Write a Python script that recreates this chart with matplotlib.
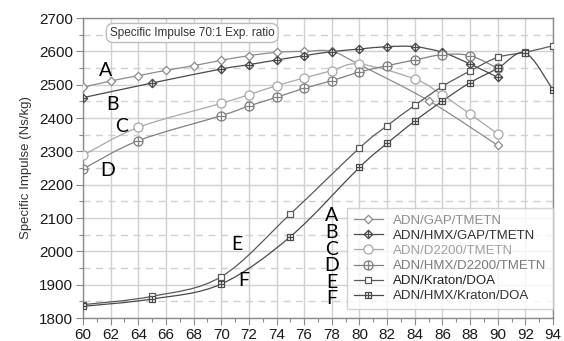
import numpy as np
import matplotlib
matplotlib.use("Agg")
import matplotlib.pyplot as plt
from matplotlib.path import Path
from matplotlib.patches import PathPatch
from matplotlib.lines import Line2D

# ---------------- data ----------------
a_x = [60, 62, 64, 66, 68, 70, 72, 74, 76, 78, 80, 85, 90]
a_y = [2492, 2511, 2527, 2543, 2557, 2573, 2587, 2597, 2600, 2600, 2560, 2452, 2318]

b_x = [60, 65, 70, 72, 74, 76, 78, 80, 82, 84, 86, 88, 90]
b_y = [2461, 2505, 2547, 2560, 2574, 2587, 2599, 2607, 2614, 2614, 2597, 2562, 2522]

c_x = [60, 64, 70, 72, 74, 76, 78, 80, 84, 86, 88, 90]
c_y = [2288, 2372, 2444, 2470, 2497, 2520, 2542, 2562, 2517, 2469, 2412, 2352]

d_x = [60, 64, 70, 72, 74, 76, 78, 80, 82, 84, 86, 88, 90]
d_y = [2247, 2332, 2407, 2436, 2462, 2489, 2512, 2538, 2557, 2574, 2590, 2587, 2549]

e_x = [60, 65, 70, 75, 80, 82, 84, 86, 88, 90, 92, 94]
e_y = [1840, 1865, 1924, 2112, 2310, 2377, 2438, 2495, 2541, 2582, 2597, 2617]

f_x = [60, 65, 70, 75, 80, 82, 84, 86, 88, 90, 92, 94]
f_y = [1835, 1857, 1902, 2044, 2252, 2324, 2391, 2451, 2506, 2549, 2595, 2484]

series_names = ["ADN/GAP/TMETN", "ADN/HMX/GAP/TMETN", "ADN/D2200/TMETN",
                "ADN/HMX/D2200/TMETN", "ADN/Kraton/DOA", "ADN/HMX/Kraton/DOA"]
letters = ["A", "B", "C", "D", "E", "F"]
x_ticks = list(range(60, 95, 2))
y_ticks = list(range(1800, 2701, 100))
title_text = "Specific Impulse 70:1 Exp. ratio"
y_label = "Specific Impulse (Ns/kg)"

# ---------------- marker shapes ----------------
M, L, C = Path.MOVETO, Path.LINETO, Path.CLOSEPOLY
plus = Path([(-1, 0), (1, 0), (0, -1), (0, 1)], [M, L, M, L])
diamond = Path([(0, 1), (1, 0), (0, -1), (-1, 0), (0, 1)], [M, L, L, L, C])
square = Path([(-1, -1), (1, -1), (1, 1), (-1, 1), (-1, -1)], [M, L, L, L, C])
circle = Path.unit_circle()
diamond_plus = Path.make_compound_path(diamond, plus)
circle_plus = Path.make_compound_path(circle, plus)
square_plus = Path.make_compound_path(square, plus)


def smooth_path(x, y):
    pts = np.column_stack([x, y]).astype(float)
    n = len(pts)
    verts = [pts[0]]
    codes = [Path.MOVETO]
    for i in range(n - 1):
        p0 = pts[i - 1] if i > 0 else pts[i]
        p1 = pts[i]
        p2 = pts[i + 1]
        p3 = pts[i + 2] if i + 2 < n else pts[i + 1]
        verts += [p1 + (p2 - p0) / 6.0, p2 - (p3 - p1) / 6.0, p2]
        codes += [Path.CURVE4] * 3
    return Path(verts, codes)


series = [
    (a_x, a_y, diamond, 6.0, "#8c8c8c", "#8c8c8c"),
    (b_x, b_y, diamond_plus, 6.0, "#4a4a4a", "#333333"),
    (c_x, c_y, circle, 6.5, "#a8a8a8", "#a0a0a0"),
    (d_x, d_y, circle_plus, 6.5, "#808080", "#7a7a7a"),
    (e_x, e_y, square, 5.0, "#5a5a5a", "#222222"),
    (f_x, f_y, square_plus, 5.0, "#4a4a4a", "#333333"),
]

plt.rcParams["font.family"] = ["Liberation Sans", "DejaVu Sans"]

fig = plt.figure(figsize=(5.64, 3.41), dpi=100)
ax = fig.add_axes([83 / 564, 1 - 318 / 341, 470 / 564, 300 / 341])

ax.set_xlim(60, 94)
ax.set_ylim(1800, 2700)
ax.set_xticks(x_ticks)
ax.set_xticks(list(range(61, 94, 2)), minor=True)
ax.set_yticks(y_ticks)
ax.set_yticks(list(range(1850, 2700, 100)), minor=True)

ax.grid(which="major", color="#d0d0d0", lw=1.0, ls="-", zorder=0)
ax.grid(which="minor", axis="y", color="#d0d0d0", lw=1.0, ls=(0, (5, 4)), zorder=0)
ax.set_axisbelow(True)

for sp in ax.spines.values():
    sp.set_color("#8a8a8a")
    sp.set_linewidth(1.0)

ax.tick_params(which="major", length=5, width=0.8, color="#8a8a8a",
               labelsize=11, labelcolor="#1a1a1a", pad=2)
ax.tick_params(which="minor", length=3, width=0.8, color="#8a8a8a")

ax.set_ylabel(y_label, fontsize=9.5, color="#333333", labelpad=5)

handles = []
for (xs, ys, mk, ms, col, tcol), name in zip(series, series_names):
    ax.add_patch(PathPatch(smooth_path(xs, ys), fill=False, edgecolor=col,
                           lw=0.9, zorder=3))
    ax.plot(xs, ys, ls="none", marker=mk, ms=ms, mfc="white", mec=col,
            mew=0.9, zorder=4)
    handles.append(Line2D([], [], color=col, lw=0.9, marker=mk, ms=ms,
                          mfc="white", mec=col, mew=0.9))

leg = ax.legend(handles, series_names, loc="upper left",
                bbox_to_anchor=(0.562, 0.367), fontsize=9.5, frameon=True,
                fancybox=False, edgecolor="#c8c8c8", handlelength=2.2,
                handletextpad=0.8, labelspacing=0.22, borderpad=0.5,
                borderaxespad=0)
leg.get_frame().set_linewidth(1.0)
for txt, (_, _, _, _, _, tcol) in zip(leg.get_texts(), series):
    txt.set_color(tcol)

ax.text(67.9, 2655, title_text, fontsize=8.5, color="#333333", ha="center",
        va="center", zorder=6,
        bbox=dict(boxstyle="round,pad=0.3,rounding_size=0.6", fc="white",
                  ec="#bdbdbd", lw=1.0))

# curve letters
left_pos = [(61.6, 2542), (62.15, 2439), (62.8, 2373), (61.75, 2241),
            (71.15, 2022), (71.6, 1911)]
for lt, (lx, ly) in zip(letters, left_pos):
    ax.text(lx, ly, lt, fontsize=14, family=["Lato", "DejaVu Sans"],
            ha="center", va="center", color="black", zorder=7)

col_y = [2107, 2055, 2006, 1957, 1907, 1857]
for lt, ly in zip(letters, col_y):
    ax.text(78.0, ly, lt, fontsize=14, family=["Lato", "DejaVu Sans"],
            ha="center", va="center", color="black", zorder=7)

fig.savefig("out.png", dpi=100)
